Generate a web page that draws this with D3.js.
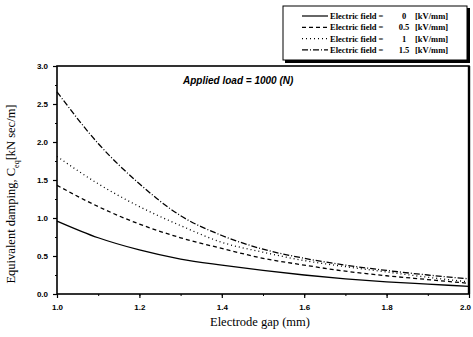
<!DOCTYPE html>
<html>
<head>
<meta charset="utf-8">
<script src="https://cdn.jsdelivr.net/npm/d3@7"></script>
<style>
  body { margin: 0; background: #fff; }
  svg { display: block; }
</style>
</head>
<body>
<div id="chart"></div>
<script>
// Electrode gap values (mm)
const gaps = [1.0, 1.1, 1.2, 1.3, 1.4, 1.5, 1.6, 1.7, 1.8, 1.9, 2.0];
// Equivalent damping for each electric field
const field0 = [0.96, 0.74, 0.58, 0.46, 0.38, 0.31, 0.25, 0.20, 0.16, 0.13, 0.10];
const field05 = [1.43, 1.15, 0.92, 0.74, 0.60, 0.47, 0.38, 0.30, 0.24, 0.19, 0.14];
const field1 = [1.81, 1.45, 1.15, 0.90, 0.68, 0.55, 0.44, 0.36, 0.29, 0.22, 0.16];
const field15 = [2.66, 1.98, 1.45, 1.03, 0.77, 0.59, 0.47, 0.38, 0.31, 0.25, 0.20];
const fieldLabels = ["0", "0.5", "1", "1.5"];
const xTicks = [1.0, 1.2, 1.4, 1.6, 1.8, 2.0];
const yTicks = [0, 0.5, 1.0, 1.5, 2.0, 2.5, 3.0];

const series = [
  { vals: field0, dash: null },
  { vals: field05, dash: "4,3" },
  { vals: field1, dash: "1,3" },
  { vals: field15, dash: "6,2,1,2" }
];

const width = 473, height = 337;
const margin = { top: 66, right: 4, bottom: 43, left: 57 };
const w = width - margin.left - margin.right;
const h = height - margin.top - margin.bottom;

const svg = d3.select("#chart").append("svg")
  .attr("width", width)
  .attr("height", height);

const g = svg.append("g")
  .attr("transform", "translate(" + margin.left + "," + margin.top + ")");

const x = d3.scaleLinear().domain([1.0, 2.0]).range([0, w]);
const y = d3.scaleLinear().domain([0, 3.0]).range([h, 0]);

// Minor ticks
g.append("g")
  .attr("transform", "translate(0," + h + ")")
  .call(d3.axisBottom(x).tickValues(d3.range(1.0, 2.01, 0.1)).tickSize(2).tickFormat(""))
  .call(a => a.select(".domain").remove());
g.append("g")
  .call(d3.axisLeft(y).tickValues(d3.range(0, 3.01, 0.25)).tickSize(2).tickFormat(""))
  .call(a => a.select(".domain").remove());

// Major axes
const xAxis = g.append("g")
  .attr("transform", "translate(0," + h + ")")
  .call(d3.axisBottom(x).tickValues(xTicks).tickSize(4).tickPadding(6).tickFormat(d3.format(".1f")));
const yAxis = g.append("g")
  .call(d3.axisLeft(y).tickValues(yTicks).tickSize(4).tickPadding(5).tickFormat(d3.format(".1f")));

[xAxis, yAxis].forEach(a => {
  a.select(".domain").remove();
  a.selectAll("text")
    .attr("font-family", "Liberation Sans, Arial, sans-serif")
    .attr("font-weight", "bold")
    .attr("font-size", 8)
    .attr("fill", "#000");
  a.selectAll("line").attr("stroke", "#000").attr("stroke-width", 1.2);
});
// keep the last x label inside the window
xAxis.selectAll(".tick text").filter(d => d === 2.0).attr("dx", -4);

// Frame
g.append("rect")
  .attr("width", w).attr("height", h)
  .attr("fill", "none")
  .attr("stroke", "#000")
  .attr("stroke-width", 1.6);
g.append("line")
  .attr("x1", w).attr("x2", w).attr("y1", 0).attr("y2", h)
  .attr("stroke", "#000").attr("stroke-width", 2.4);

// Curves
const line = d3.line()
  .x((d, i) => x(gaps[i]))
  .y(d => y(d))
  .curve(d3.curveMonotoneX);

g.selectAll(".curve")
  .data(series)
  .enter().append("path")
  .attr("class", "curve")
  .attr("d", d => line(d.vals))
  .attr("fill", "none")
  .attr("stroke", "#000")
  .attr("stroke-width", 1.3)
  .attr("stroke-dasharray", d => d.dash);

// Annotation
svg.append("text")
  .attr("x", 183).attr("y", 84)
  .attr("font-family", "Liberation Sans, Arial, sans-serif")
  .attr("font-weight", "bold")
  .attr("font-style", "italic")
  .attr("font-size", 10)
  .text("Applied load = 1000  (N)");

// Axis titles
svg.append("text")
  .attr("x", margin.left + w / 2 - 3).attr("y", 326)
  .attr("text-anchor", "middle")
  .attr("font-family", "Liberation Serif, Times New Roman, serif")
  .attr("font-size", 12.5)
  .text("Electrode gap   (mm)");

const yt = svg.append("text")
  .attr("transform", "translate(15,194) rotate(-90)")
  .attr("text-anchor", "middle")
  .attr("font-family", "Liberation Serif, Times New Roman, serif")
  .attr("font-size", 12.5);
yt.append("tspan").text("Equivalent damping, C");
yt.append("tspan").attr("font-size", 8).attr("dy", 4).text("eq");
yt.append("tspan").attr("dy", -4).text("[kN sec/m]");

// Legend
const lg = svg.append("g").attr("transform", "translate(283,6)");
lg.append("rect")
  .attr("x", 2).attr("y", 2)
  .attr("width", 185).attr("height", 55)
  .attr("fill", "#000");
lg.append("rect")
  .attr("width", 184).attr("height", 54)
  .attr("fill", "#fff")
  .attr("stroke", "#000")
  .attr("stroke-width", 1);

const rows = lg.selectAll(".row")
  .data(series)
  .enter().append("g")
  .attr("transform", (d, i) => "translate(0," + (10 + i * 11.3) + ")");
rows.append("line")
  .attr("x1", 19).attr("x2", 45)
  .attr("stroke", "#000").attr("stroke-width", 1.2)
  .attr("stroke-dasharray", d => d.dash);
const legFont = r => r
  .attr("font-family", "Liberation Serif, Times New Roman, serif")
  .attr("font-weight", "bold")
  .attr("font-size", 8.5)
  .attr("dy", "0.35em");
rows.append("text").attr("x", 47).call(legFont).text("Electric field  =");
rows.append("text").attr("x", 121).attr("text-anchor", "middle").call(legFont)
  .text((d, i) => fieldLabels[i]);
rows.append("text").attr("x", 132).call(legFont).text("[kV/mm]");
</script>
</body>
</html>
